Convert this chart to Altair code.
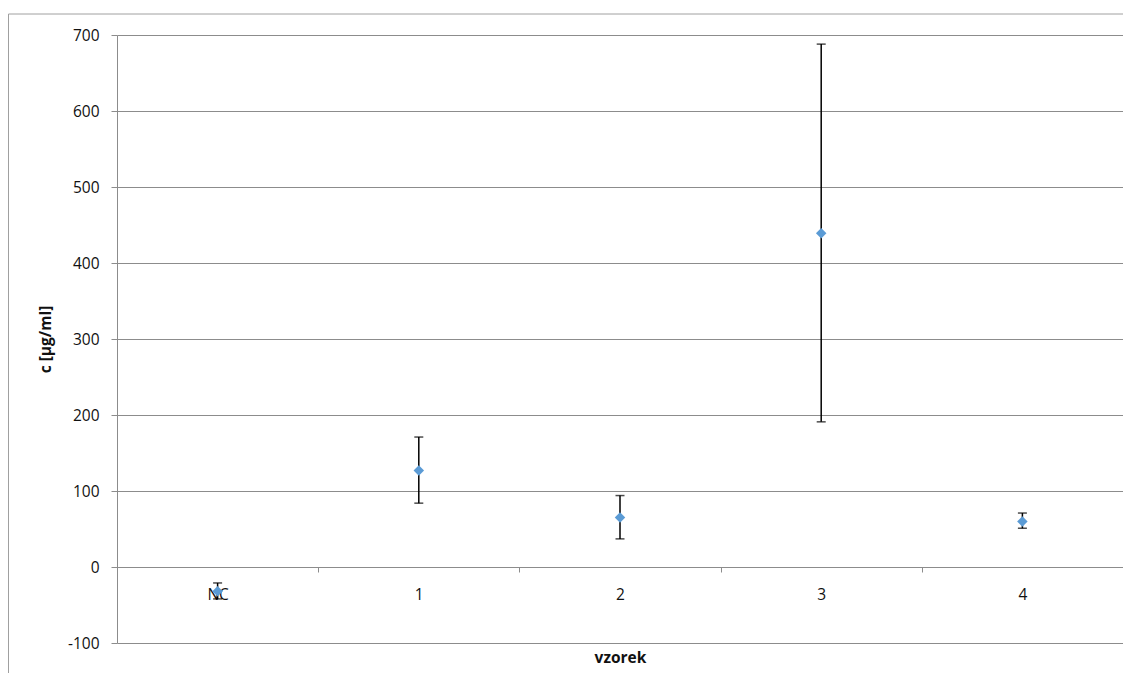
import altair as alt
import pandas as pd

categories = ["NC", "1", "2", "3", "4"]
means = [-32, 127, 65, 439, 60]
upper = [-21, 171, 94, 688, 71]
lower = [-42, 84, 37, 191, 51]

df = pd.DataFrame({"vzorek": categories, "c": means, "hi": upper, "lo": lower})

FONT = "Open Sans"
GRID = "#8c8c8c"
TXT = "#111111"
W, H = 1006, 608

xenc = alt.X(
    "vzorek:N",
    sort=categories,
    scale=alt.Scale(paddingInner=0, paddingOuter=0),
    axis=alt.Axis(
        title="vzorek",
        labelAngle=0,
        offset=-76,
        tickBand="extent",
        tickSize=5,
        tickColor=GRID,
        domainColor=GRID,
        labelPadding=22,
        labelBaseline="middle",
        labelFontSize=15.5,
        labelFont=FONT,
        labelColor=TXT,
        titleFont=FONT,
        titleFontSize=15.5,
        titleFontWeight="bold",
        titleColor=TXT,
        titleY=90,
        titleBaseline="middle",
        grid=False,
    ),
)

yscale = alt.Scale(domain=[-100, 700], nice=False, zero=False)
yaxis = alt.Axis(
    title="c [µg/ml]",
    values=list(range(-100, 701, 100)),
    labelExpr="datum.value + ''",
    tickSize=6,
    tickColor=GRID,
    domainColor=GRID,
    gridColor=GRID,
    gridWidth=1,
    labelPadding=12,
    labelFontSize=15.5,
    labelFont=FONT,
    labelColor=TXT,
    titleFont=FONT,
    titleFontSize=15.5,
    titleFontWeight="bold",
    titleColor=TXT,
    titleX=-72,
    titleY=H / 2,
    titleBaseline="middle",
    titleAlign="center",
)

base = alt.Chart(df)

bars = base.mark_rule(color="black", strokeWidth=1.5).encode(
    x=xenc, y=alt.Y("lo:Q", scale=yscale, axis=yaxis), y2="hi:Q"
)
caps_hi = base.mark_tick(color="black", size=9, thickness=1.5).encode(
    x=alt.X("vzorek:N", sort=categories), y=alt.Y("hi:Q", scale=yscale)
)
caps_lo = base.mark_tick(color="black", size=9, thickness=1.5).encode(
    x=alt.X("vzorek:N", sort=categories), y=alt.Y("lo:Q", scale=yscale)
)
points = base.mark_point(shape="diamond", filled=True, size=110, color="#5b9bd5", opacity=1).encode(
    x=alt.X("vzorek:N", sort=categories), y=alt.Y("c:Q", scale=yscale)
)

border = alt.Chart(pd.DataFrame({"a": [0]})).mark_rect(
    fill="transparent", stroke="#a0a0a0", strokeWidth=1
).encode(
    x=alt.value(-108.5), x2=alt.value(W + 50), y=alt.value(-21), y2=alt.value(H + 80)
)

chart = alt.layer(border, bars, caps_hi, caps_lo, points).properties(
    width=W,
    height=H,
    padding={"left": 109, "top": 27, "right": 0, "bottom": 30},
    autosize=alt.AutoSizeParams(type="none"),
    background="white",
).configure_view(stroke=None)

chart.save("out.html", embed_options={"renderer": "svg", "actions": False})
